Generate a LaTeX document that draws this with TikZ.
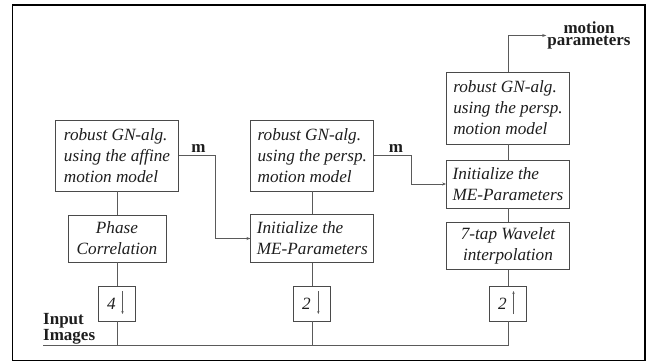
\documentclass[tikz,border=0pt]{standalone}
\usepackage{fontspec}
\setmainfont{Liberation Serif}
\usetikzlibrary{arrows.meta,calc}
\definecolor{boxc}{HTML}{4A4A4A}
\definecolor{linec}{HTML}{5A5A5A}
\definecolor{txtc}{HTML}{1E1E1E}
\begin{document}
\begin{tikzpicture}[x=1pt,y=-1pt,
  box/.style={draw=boxc, line width=0.9pt, inner xsep=4pt, inner ysep=0pt, text=txtc,
    font=\itshape\fontsize{17.2}{21}\selectfont},
  bigbox/.style={box, minimum width=122.8pt, align=left},
  smallbox/.style={draw=boxc, line width=0.9pt, inner sep=0pt, minimum width=37pt, minimum height=35pt},
  digit/.style={inner sep=0pt, text=txtc, font=\itshape\fontsize{17.2}{21}\selectfont},
  conn/.style={draw=linec, line width=0.8pt},
  arr/.style={conn, -{Stealth[length=4pt,width=3pt]}},
  tinyarr/.style={draw=linec, line width=0.7pt, -{Stealth[length=3pt,width=2.4pt]}},
  lbl/.style={inner sep=0pt, text=txtc, font=\bfseries\fontsize{17}{14}\selectfont}
]
\path[use as bounding box] (0,0) rectangle (651,362);
\draw[line width=1.6pt, black] (12.5,5) rectangle (645,360.5);

% column 1
\node[bigbox, minimum height=71pt] (A) at (117,155.5) {robust GN-alg.\\using the affine\\motion model};
\node[box, minimum width=98pt, align=center, minimum height=47pt] (B) at (117,238.5) {Phase\\Correlation};
\node[smallbox] (C) at (117,303.5) {};
\node[digit] (C4) at ($(C.center)+(-5.5,0)$) {4};
\draw[tinyarr] ($(C.center)+(5.5,-12.5)$) -- ($(C.center)+(5.5,10.5)$);

% column 2
\node[bigbox, minimum height=71pt] (D) at (312.3,155.5) {robust GN-alg.\\using the persp.\\motion model};
\node[bigbox, minimum height=48pt] (E) at (312.3,238.5) {Initialize the\\ME-Parameters};
\node[smallbox] (F) at (312.3,303.5) {};
\node[digit] (F2) at ($(F.center)+(-6,0)$) {2};
\draw[tinyarr] ($(F.center)+(6,-12.5)$) -- ($(F.center)+(6,10.5)$);

% column 3
\node[bigbox, minimum height=72pt] (G) at (508,108) {robust GN-alg.\\using the persp.\\motion model};
\node[bigbox, minimum height=48pt] (H) at (508,184) {Initialize the\\ME-Parameters};
\node[box, minimum width=122.8pt, align=center, minimum height=47pt] (I) at (508,245.7) {7-tap Wavelet\\interpolation};
\node[smallbox] (J) at (508,303.5) {};
\node[digit] (J2) at ($(J.center)+(-5.5,0)$) {2};
\draw[tinyarr] ($(J.center)+(5.5,10.5)$) -- ($(J.center)+(5.5,-12.5)$);

% labels
\node[lbl, align=left, anchor=north west] (inp) at (43,313.5) {Input\\Images};
\node[lbl, font=\bfseries\fontsize{17}{12.5}\selectfont, align=center, inner sep=1pt] (mp) at (589,35.5) {motion\\parameters};
\node[lbl, anchor=base] (m1) at (198.5,152) {m};
\node[lbl, anchor=base] (m2) at (396,152) {m};

% vertical connectors
\draw[conn] (A) -- (B);
\draw[conn] (B) -- (C);
\draw[conn] (D) -- (E);
\draw[conn] (E) -- (F);
\draw[conn] (G) -- (H);
\draw[conn] (H) -- (I);
\draw[conn] (I) -- (J);

% input bus
\coordinate (busL) at (43,345);
\coordinate (busR) at (508,345);
\draw[conn] (busL) -- (busR) -- (J.south);
\draw[conn] (C.south) -- (C.south |- busL);
\draw[conn] (F.south) -- (F.south |- busL);

% m arrows
\draw[arr] (A.east) -- ++(36.6,0) |- (E.west);
\draw[arr] (D.east) -- ++(37.3,0) |- (H.west);

% motion parameters
\draw[arr] (G.north) |- (mp.west);
\end{tikzpicture}
\end{document}
